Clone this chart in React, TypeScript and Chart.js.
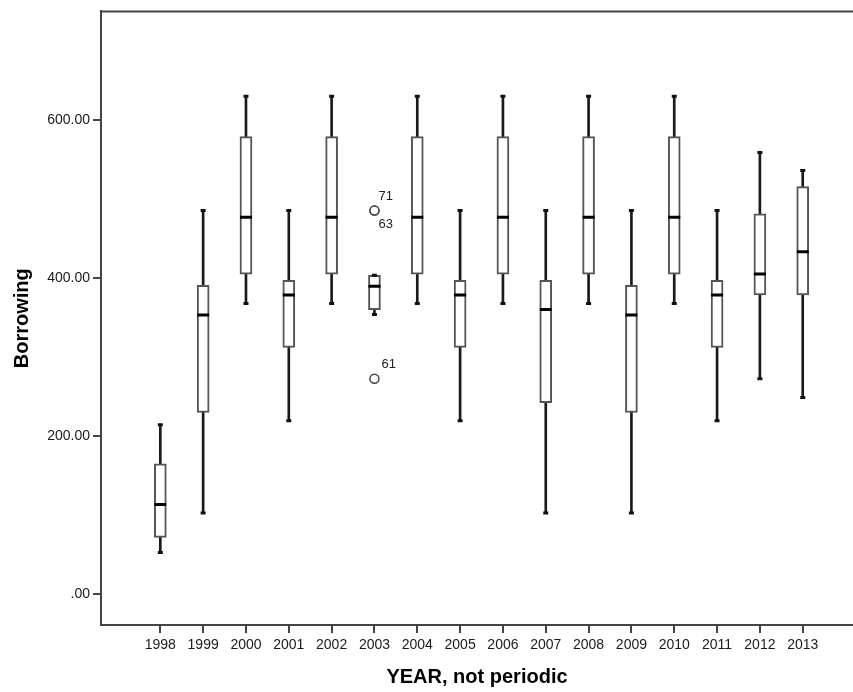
import React, { useEffect, useRef } from 'react';
import { Chart, registerables } from 'chart.js';

Chart.register(...registerables);

// ---- data ----
const years = [1998, 1999, 2000, 2001, 2002, 2003, 2004, 2005, 2006, 2007, 2008, 2009, 2010, 2011, 2012, 2013];
const whiskerMin = [52.9, 102.9, 368.1, 219.7, 368.1, 354.2, 368.1, 219.7, 368.1, 102.9, 368.1, 102.9, 368.1, 219.7, 273.0, 249.1];
const q1 = [72.2, 230.2, 405.4, 312.6, 405.4, 360.5, 405.4, 312.6, 405.4, 242.8, 405.4, 230.2, 405.4, 312.6, 378.9, 378.9];
const median = [113.8, 353.7, 477.3, 378.9, 477.3, 389.9, 477.3, 378.9, 477.3, 360.5, 477.3, 353.7, 477.3, 378.9, 405.4, 433.6];
const q3 = [165.1, 391.2, 579.4, 397.5, 579.4, 403.8, 579.4, 397.5, 579.4, 397.5, 579.4, 391.2, 579.4, 397.5, 481.5, 516.0];
const whiskerMax = [214.7, 485.7, 630.3, 485.7, 630.3, 403.8, 630.3, 485.7, 630.3, 485.7, 630.3, 485.7, 630.3, 485.7, 559.2, 536.5];

const outlierYears = [2003, 2003, 2003];
const outlierValues = [485.7, 485.7, 273.0];
const outlierLabels = ['71', '63', '61'];

const yTicks = [0, 200, 400, 600];
const yMin = -38.7;
const yMax = 737.8;
const xMin = 1996.615;
const xMax = 2014.174;

const FONT = 'Arial, "Liberation Sans", sans-serif';

export default function App() {
  const ref = useRef<HTMLCanvasElement>(null);

  useEffect(() => {
    const canvas = ref.current;
    if (!canvas) return;

    const topLine = {
      id: 'topLine',
      afterDraw(chart: any) {
        const { ctx, chartArea } = chart;
        ctx.save();
        ctx.strokeStyle = '#444';
        ctx.lineWidth = 2;
        ctx.beginPath();
        ctx.moveTo(chartArea.left - 1, chartArea.top);
        ctx.lineTo(chartArea.right, chartArea.top);
        ctx.stroke();
        ctx.restore();
      },
    };

    const outlierLabelPlugin = {
      id: 'outlierLabels',
      afterDatasetsDraw(chart: any) {
        const { ctx } = chart;
        const xs = chart.scales.x;
        const ys = chart.scales.y;
        ctx.save();
        ctx.font = `13px ${FONT}`;
        ctx.fillStyle = '#222';
        ctx.textAlign = 'left';
        ctx.textBaseline = 'middle';
        const seen: Record<string, number> = {};
        outlierLabels.forEach((lbl, i) => {
          const key = `${outlierYears[i]}_${outlierValues[i]}`;
          const n = seen[key] || 0;
          seen[key] = n + 1;
          const px = xs.getPixelForValue(outlierYears[i]);
          const py = ys.getPixelForValue(outlierValues[i]);
          const stacked = outlierValues.filter((v, j) => v === outlierValues[i] && outlierYears[j] === outlierYears[i]).length > 1;
          const dx = stacked ? 4 : 7;
          const dy = n === 0 ? -14 : 14;
          ctx.fillText(lbl, px + dx, py + dy);
        });
        ctx.restore();
      },
    };

    const chart = new Chart(canvas, {
      type: 'bar',
      data: {
        datasets: [
          {
            type: 'scatter',
            label: 'outliers',
            data: outlierYears.map((x, i) => ({ x, y: outlierValues[i] })),
            pointStyle: 'circle',
            pointRadius: 4.5,
            pointBackgroundColor: '#fff',
            pointBorderColor: '#444',
            pointBorderWidth: 1.5,
            order: 1,
          } as any,
          {
            type: 'scatter',
            label: 'median',
            data: years.map((x, i) => ({ x, y: median[i] })),
            pointStyle: 'line',
            pointRadius: 6,
            pointBorderColor: '#000',
            pointBorderWidth: 3,
            order: 2,
          } as any,
          {
            type: 'scatter',
            label: 'caps',
            data: [
              ...years.map((x, i) => ({ x, y: whiskerMax[i] })),
              ...years.map((x, i) => ({ x, y: whiskerMin[i] })),
            ],
            pointStyle: 'line',
            pointRadius: 2.5,
            pointBorderColor: '#111',
            pointBorderWidth: 3,
            order: 2,
          } as any,
          {
            type: 'bar',
            label: 'box',
            data: years.map((x, i) => ({ x, y: [q1[i], q3[i]] })),
            backgroundColor: '#fff',
            borderColor: '#555',
            borderWidth: 2,
            borderSkipped: false,
            barThickness: 12,
            grouped: false,
            order: 3,
          } as any,
          {
            type: 'bar',
            label: 'whisker',
            data: years.map((x, i) => ({ x, y: [whiskerMin[i], whiskerMax[i]] })),
            backgroundColor: '#1a1a1a',
            borderWidth: 0,
            barThickness: 2,
            grouped: false,
            order: 4,
          } as any,
        ],
      },
      options: {
        responsive: false,
        animation: false,
        events: [],
        layout: { padding: { top: 9, left: 0, right: 0, bottom: 0 }, autoPadding: false } as any,
        plugins: {
          legend: { display: false },
          tooltip: { enabled: false },
        },
        scales: {
          x: {
            type: 'linear',
            min: xMin,
            max: xMax,
            offset: false,
            afterBuildTicks: (s: any) => {
              s.ticks = years.map((v) => ({ value: v }));
            },
            afterFit: (s: any) => {
              s.height = 67;
            },
            ticks: {
              font: { family: FONT, size: 14 },
              color: '#1a1a1a',
              padding: 4,
              maxRotation: 0,
              autoSkip: false,
              callback: (v: any) => String(v),
            },
            grid: { offset: false, drawOnChartArea: false, drawTicks: true, tickLength: 8, color: '#444', lineWidth: 2 },
            border: { display: true, color: '#444', width: 2 },
            title: {
              display: true,
              text: 'YEAR, not periodic',
              font: { family: FONT, size: 20, weight: 'bold' },
              color: '#000',
              padding: { top: 0, bottom: 3 },
            },
          } as any,
          y: {
            type: 'linear',
            min: yMin,
            max: yMax,
            afterBuildTicks: (s: any) => {
              s.ticks = yTicks.map((v) => ({ value: v }));
            },
            afterFit: (s: any) => {
              s.width = 101;
            },
            ticks: {
              font: { family: FONT, size: 14 },
              color: '#1a1a1a',
              padding: 3,
              callback: (v: any) => (v === 0 ? '.00' : Number(v).toFixed(2)),
            },
            grid: { drawOnChartArea: false, drawTicks: true, tickLength: 8, color: '#444', lineWidth: 2 },
            border: { display: true, color: '#444', width: 2 },
            title: {
              display: true,
              text: 'Borrowing',
              font: { family: FONT, size: 20, weight: 'bold' },
              color: '#000',
              padding: { top: 10, bottom: 0 },
            },
          } as any,
        },
      },
      plugins: [topLine, outlierLabelPlugin],
    });

    return () => chart.destroy();
  }, []);

  return (
    <div style={{ position: 'fixed', left: 0, top: 0, width: 853, height: 692, background: '#fff' }}>
      <canvas ref={ref} width={853} height={692} style={{ display: 'block', width: 853, height: 692 }} />
    </div>
  );
}
